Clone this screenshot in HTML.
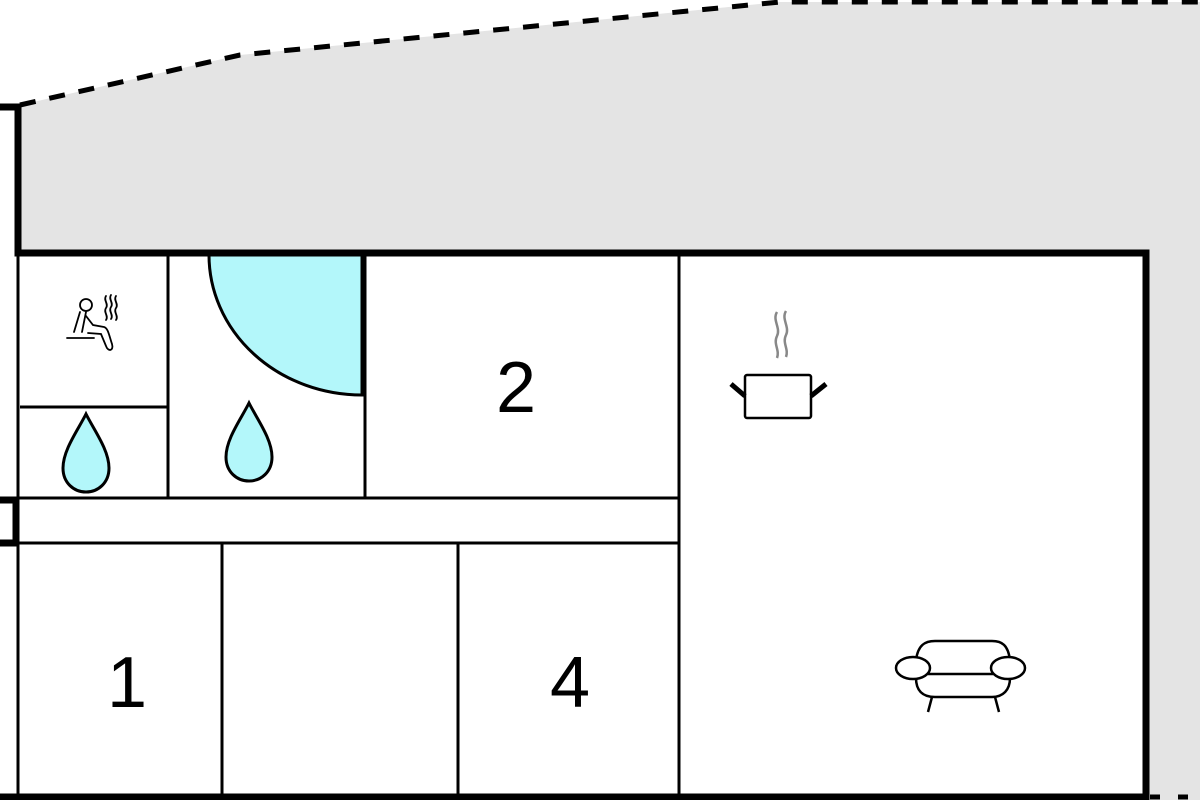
<!DOCTYPE html>
<html><head><meta charset="utf-8"><style>html,body{margin:0;padding:0;background:#fff}svg{display:block}</style></head>
<body>
<svg width="1200" height="800" viewBox="0 0 1200 800" xmlns="http://www.w3.org/2000/svg">
<polygon points="20,105 240,55 780,2 1200,2 1200,800 1146,800 1146,253 20,253" fill="#e4e4e4"/>
<path d="M20,105 L240,55 L780,2 L1200,2" fill="none" stroke="#000" stroke-width="5" stroke-dasharray="16,14"/>
<path d="M1150,797 L1200,797" stroke="#000" stroke-width="5" stroke-dasharray="10,18"/>
<rect x="0" y="253" width="1146" height="545" fill="#fff"/>
<path d="M362,255 L209,255 A153,140 0 0 0 362,395 Z" fill="#b3f7fa" stroke="#000" stroke-width="3"/>
<!-- thin walls -->
<g stroke="#000" stroke-width="3" fill="none">
<line x1="18" y1="255" x2="18" y2="797"/>
<line x1="168" y1="255" x2="168" y2="498"/>
<line x1="20" y1="407" x2="168" y2="407"/>
<line x1="365" y1="255" x2="365" y2="498"/>
<line x1="18" y1="498" x2="679" y2="498"/>
<line x1="18" y1="543" x2="679" y2="543"/>
<line x1="679" y1="255" x2="679" y2="797"/>
<line x1="222" y1="543" x2="222" y2="797"/>
<line x1="458" y1="543" x2="458" y2="797"/>
</g>
<!-- thick walls -->
<g stroke="#000" stroke-width="7" fill="none">
<path d="M0,107 L18,107 L18,253 L1146,253 L1146,797 L0,797"/>
<path d="M0,500 L16,500 L16,543 L0,543"/>
</g>
<!-- drops -->
<g fill="#b3f7fa" stroke="#000" stroke-width="3">
<path d="M86,414 C78,430 63,450 63,468 C63,483 74,492 86,492 C98,492 109,483 109,468 C109,450 94,430 86,414 Z"/>
<path d="M249,403 C241,419 226,439 226,457 C226,472 237,481 249,481 C261,481 272,472 272,457 C272,439 257,419 249,403 Z"/>
</g>
<!-- sauna -->
<g fill="none" stroke="#000" stroke-width="1.8" stroke-linecap="round">
<circle cx="86" cy="305" r="6"/>
<path d="M80,312 L74,332 M86,312 L82,332 M86,316 L93,325 L104,327 C108,328 109,335 112,344 C114,351 108,352 106,346 L101,334 L88,333"/>
<line x1="67" y1="338" x2="94" y2="338"/>
<path d="M106,296 c-3,4 3,8 0,12 c-3,4 3,8 0,12 M111,295 c-3,4 3,8 0,12 c-3,4 3,8 0,12 M116,296 c-3,4 3,8 0,12 c-3,4 3,8 0,12"/>
</g>
<!-- numbers -->
<g font-family="Liberation Sans, sans-serif" font-size="72" text-anchor="middle" fill="#000">
<text x="516" y="412">2</text>
<text x="127" y="707">1</text>
<text x="570" y="707">4</text>
</g>
<!-- pot -->
<g fill="none" stroke="#000">
<path d="M777,312 c-5,8 4,16 0,24 c-4,8 3,14 0,22 M786,311 c-5,8 4,16 0,24 c-4,8 3,14 0,22" stroke="#888" stroke-width="2.5"/>
<rect x="745" y="375" width="66" height="43" rx="2" stroke-width="2.5"/>
<path d="M731,384 L745,396 M826,384 L811,396" stroke-width="5"/>
</g>
<!-- sofa -->
<g fill="none" stroke="#000" stroke-width="2.5">
<path d="M916,660 C918,645 925,641 935,641 L992,641 C1002,641 1008,645 1010,660"/>
<ellipse cx="913" cy="668" rx="17" ry="11" fill="#fff"/>
<ellipse cx="1008" cy="668" rx="17" ry="11" fill="#fff"/>
<line x1="928" y1="674" x2="993" y2="674"/>
<path d="M916,678 C916,690 922,697 935,697 L992,697 C1003,697 1010,690 1010,678"/>
<path d="M932,697 L928,712 M995,697 L999,712"/>
</g>
</svg>
</body></html>
